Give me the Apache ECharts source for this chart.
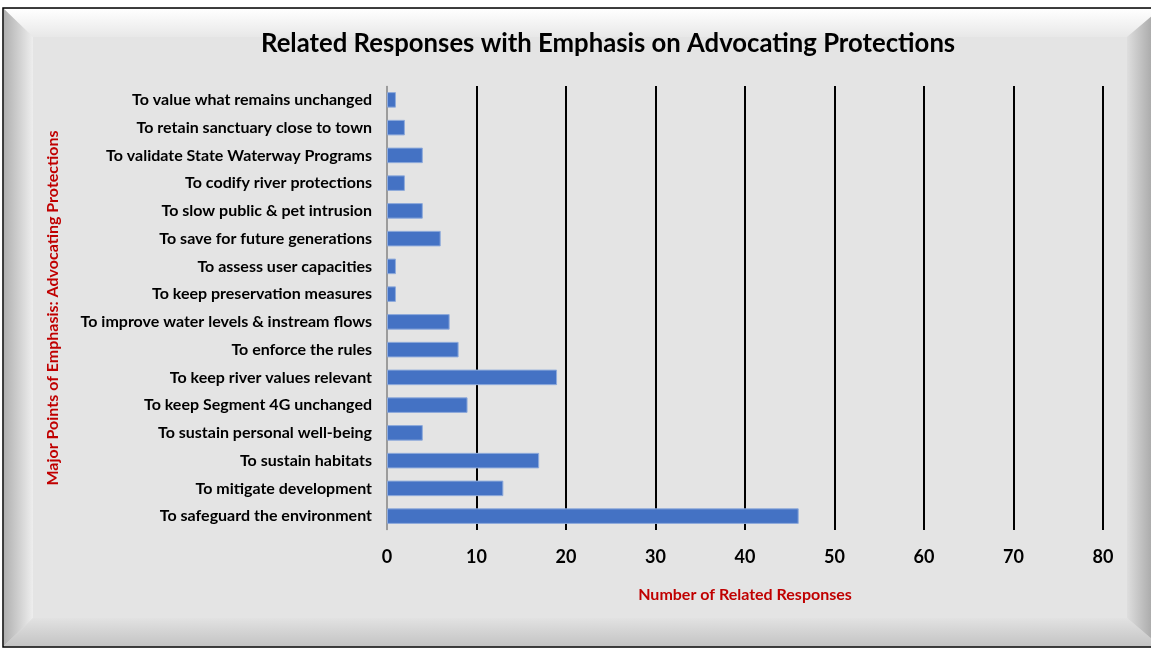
<!DOCTYPE html>
<html>
<head>
<meta charset="utf-8">
<script src="https://cdn.jsdelivr.net/npm/echarts@6/dist/echarts.min.js"></script>
<style>
  html, body { margin: 0; padding: 0; background: #fff; }
  #myChart { width: 1151px; height: 649px; }
</style>
</head>
<body>
<div id="myChart"></div>
<script>
// categories, top to bottom as they appear
var categories = [
  "To value what remains unchanged",
  "To retain sanctuary close to town",
  "To validate State Waterway Programs",
  "To codify river protections",
  "To slow public & pet intrusion",
  "To save for future generations",
  "To assess user capacities",
  "To keep preservation measures",
  "To improve water levels & instream flows",
  "To enforce the rules",
  "To keep river values relevant",
  "To keep Segment 4G unchanged",
  "To sustain personal well-being",
  "To sustain habitats",
  "To mitigate development",
  "To safeguard the environment"
];
var responses = [1, 2, 4, 2, 4, 6, 1, 1, 7, 8, 19, 9, 4, 17, 13, 46];
var xTicks = [0, 10, 20, 30, 40, 50, 60, 70, 80];

var font = "Lato, 'Open Sans', sans-serif";

var chartDom = document.getElementById("myChart");
var myChart = echarts.init(chartDom);
var option;

function lin(x1, y1, x2, y2, c1, c2) {
  return new echarts.graphic.LinearGradient(x1, y1, x2, y2, [
    { offset: 0, color: c1 },
    { offset: 1, color: c2 }
  ]);
}

option = {
  backgroundColor: "#ffffff",
  animation: false,
  graphic: [
    // outer frame + panel
    { type: "rect", z: -20, shape: { x: 3, y: 8, width: 1170, height: 639 },
      style: { fill: "#e4e4e4", stroke: "#000", lineWidth: 1.5 } },
    // top bevel
    { type: "polygon", z: -10, shape: { points: [[4, 9], [1160, 9], [1127, 37], [33, 37]] },
      style: { fill: lin(0, 0, 0, 1, "#ffffff", "#e8e8e8") } },
    // left bevel
    { type: "polygon", z: -10, shape: { points: [[4, 9], [33, 37], [33, 618], [4, 646]] },
      style: { fill: lin(0, 0, 1, 0, "#b0b0b0", "#eeeeee") } },
    // bottom bevel
    { type: "polygon", z: -10, shape: { points: [[4, 646], [33, 618], [1127, 618], [1160, 646]] },
      style: { fill: lin(0, 0, 0, 1, "#e2e2e2", "#c4c4c4") } },
    // right bevel
    { type: "polygon", z: -10, shape: { points: [[1127, 37], [1160, 9], [1160, 646], [1127, 618]] },
      style: { fill: lin(0, 0, 1, 0, "#dedede", "#9a9a9a") } }
  ],
  title: {
    text: "Related Responses with Emphasis on Advocating Protections",
    left: 256,
    top: 26,
    textStyle: { fontFamily: font, fontWeight: "bold", fontSize: 25.7, color: "#000" }
  },
  grid: { left: 387, right: 48, top: 86, bottom: 119, containLabel: false },
  xAxis: {
    type: "value",
    min: 0,
    max: 80,
    interval: 10,
    name: "Number of Related Responses",
    nameLocation: "middle",
    nameGap: 57,
    nameTextStyle: { fontFamily: font, fontWeight: "bold", fontSize: 16, color: "#c00000" },
    axisLine: { show: false },
    axisTick: { show: false },
    axisLabel: {
      margin: 18,
      fontFamily: font, fontWeight: "bold", fontSize: 18, color: "#000",
      formatter: function (v) { return xTicks.indexOf(v) >= 0 ? String(v) : ""; }
    },
    splitLine: {
      show: true,
      lineStyle: { color: "#000", width: 2, type: "solid" }
    }
  },
  yAxis: {
    type: "category",
    data: categories,
    inverse: true,
    name: "Major Points of Emphasis: Advocating Protections",
    nameLocation: "middle",
    nameGap: 326,
    nameTextStyle: { fontFamily: font, fontWeight: "bold", fontSize: 16, color: "#c00000" },
    axisLine: { show: true, lineStyle: { color: "#d0d0d0", width: 1.5 } },
    axisTick: { show: false },
    axisLabel: {
      margin: 15,
      fontFamily: font, fontWeight: "bold", fontSize: 16, color: "#000"
    },
    splitLine: { show: false }
  },
  series: [
    {
      type: "bar",
      data: responses,
      barCategoryGap: "44%",
      itemStyle: { color: "#4472c4", borderColor: "#8eaadb", borderWidth: 1 }
    }
  ]
};

option && myChart.setOption(option);
</script>
</body>
</html>
